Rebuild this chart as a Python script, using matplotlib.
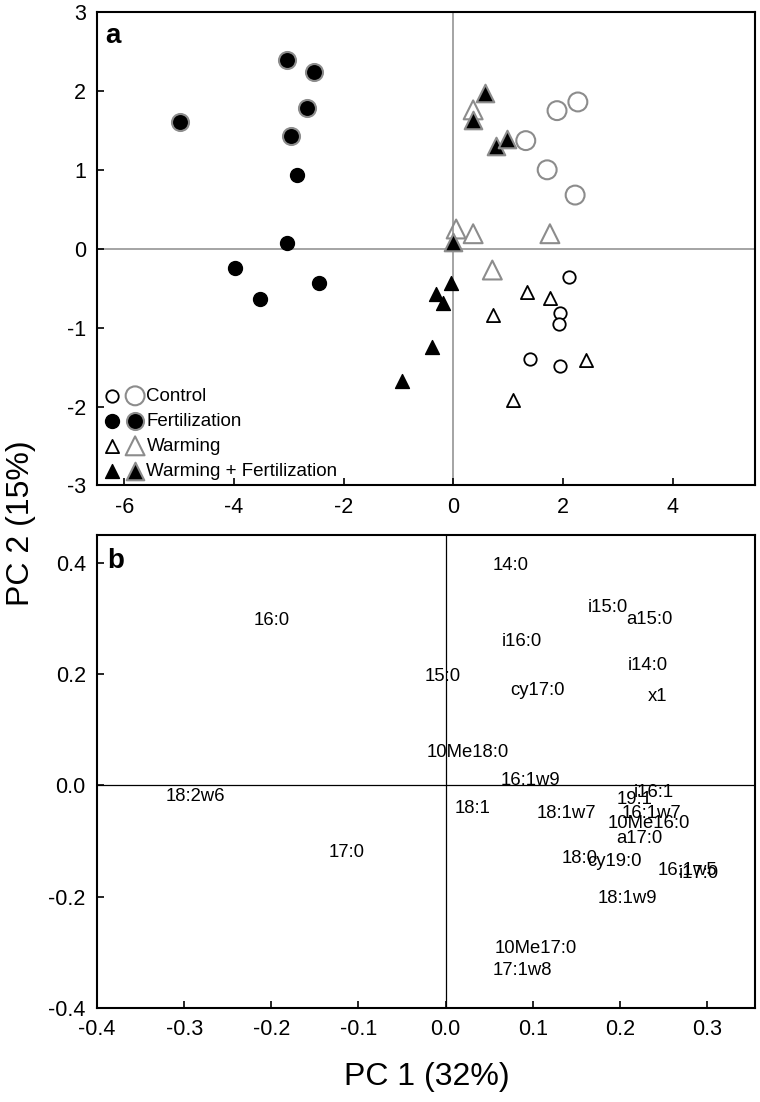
import matplotlib
matplotlib.use('Agg')
import matplotlib.pyplot as plt
from matplotlib.legend_handler import HandlerTuple

plt.rcParams['font.family'] = ['Liberation Sans', 'DejaVu Sans']
plt.rcParams['axes.unicode_minus'] = False

# panel a: sample scores (PC1, PC2), two sampling sets per treatment
control_1_x = [2.11, 1.95, 1.93, 1.40, 1.95]
control_1_y = [-0.36, -0.82, -0.95, -1.40, -1.49]
control_2_x = [2.27, 1.89, 1.32, 1.71, 2.22]
control_2_y = [1.86, 1.75, 1.37, 1.00, 0.68]

fert_1_x = [-2.85, -3.03, -3.98, -3.53, -2.46]
fert_1_y = [0.93, 0.07, -0.24, -0.64, -0.43]
fert_2_x = [-3.03, -2.55, -2.67, -2.97, -4.98]
fert_2_y = [2.39, 2.24, 1.78, 1.43, 1.60]

warm_1_x = [1.34, 1.77, 0.72, 2.42, 1.09]
warm_1_y = [-0.55, -0.62, -0.84, -1.41, -1.92]
warm_2_x = [0.36, 0.05, 0.36, 1.76, 0.71]
warm_2_y = [1.76, 0.25, 0.19, 0.19, -0.27]

wf_1_x = [-0.05, -0.32, -0.19, -0.39, -0.94]
wf_1_y = [-0.43, -0.57, -0.69, -1.24, -1.68]
wf_2_x = [0.57, 0.35, 0.78, 0.98, 0.00]
wf_2_y = [1.97, 1.63, 1.30, 1.39, 0.08]

# panel b: PLFA loadings
plfa_names = ['14:0', '16:0', 'i15:0', 'a15:0', 'i16:0', 'i14:0', '15:0', 'cy17:0',
              'x1', '10Me18:0', '16:1w9', '18:2w6', '18:1', 'i16:1', '19:1', '18:1w7',
              '16:1w7', '10Me16:0', 'a17:0', '17:0', '18:0', 'cy19:0', '16:1w5',
              'i17:0', '18:1w9', '10Me17:0', '17:1w8']
plfa_x = [0.075, -0.199, 0.186, 0.234, 0.088, 0.232, -0.003, 0.105,
          0.243, 0.026, 0.097, -0.287, 0.031, 0.239, 0.217, 0.139,
          0.236, 0.233, 0.2225, -0.113, 0.154, 0.194, 0.277,
          0.291, 0.209, 0.104, 0.088]
plfa_y = [0.395, 0.296, 0.320, 0.299, 0.258, 0.215, 0.195, 0.170,
          0.160, 0.059, 0.009, -0.020, -0.042, -0.012, -0.026, -0.051,
          -0.051, -0.068, -0.096, -0.120, -0.132, -0.136, -0.152,
          -0.158, -0.203, -0.293, -0.332]

grey = '0.55'

fig = plt.figure(figsize=(7.6, 11.02), dpi=100)
ax1 = fig.add_axes([0.1276, 0.5595, 0.8658, 0.4296])
ax2 = fig.add_axes([0.1276, 0.0853, 0.8658, 0.4292])

# ---- panel a
ax1.axhline(0, color=grey, lw=1.1, zorder=1)
ax1.axvline(0, color=grey, lw=1.1, zorder=1)

h_c1 = ax1.scatter(control_1_x, control_1_y, s=80, marker='o', facecolors='white',
                   edgecolors='black', linewidths=1.3, zorder=3)
h_c2 = ax1.scatter(control_2_x, control_2_y, s=185, marker='o', facecolors='none',
                   edgecolors=grey, linewidths=1.5, zorder=3)
h_f1 = ax1.scatter(fert_1_x, fert_1_y, s=100, marker='o', color='black', zorder=3)
h_f2 = ax1.scatter(fert_2_x, fert_2_y, s=150, marker='o', facecolors='black',
                   edgecolors=grey, linewidths=1.5, zorder=3)
h_w1 = ax1.scatter(warm_1_x, warm_1_y, s=90, marker='^', facecolors='white',
                   edgecolors='black', linewidths=1.3, zorder=3)
h_w2 = ax1.scatter(warm_2_x, warm_2_y, s=185, marker='^', facecolors='none',
                   edgecolors=grey, linewidths=1.5, zorder=3)
h_wf1 = ax1.scatter(wf_1_x, wf_1_y, s=100, marker='^', color='black', zorder=3)
h_wf2 = ax1.scatter(wf_2_x, wf_2_y, s=160, marker='^', facecolors='black',
                    edgecolors=grey, linewidths=1.5, zorder=3)

ax1.set_xlim(-6.5, 5.5)
ax1.set_ylim(-3, 3)
ax1.set_xticks([-6, -4, -2, 0, 2, 4])
ax1.set_yticks([-3, -2, -1, 0, 1, 2, 3])
ax1.text(0.012, 0.9345, 'a', transform=ax1.transAxes, fontsize=20, fontweight='bold')

ax1.legend([(h_c1, h_c2), (h_f1, h_f2), (h_w1, h_w2), (h_wf1, h_wf2)],
           ['Control', 'Fertilization', 'Warming', 'Warming + Fertilization'],
           handler_map={tuple: HandlerTuple(ndivide=None, pad=0.45)},
           loc='lower left', bbox_to_anchor=(0.012, 0.012), frameon=False,
           fontsize=13.5, borderpad=0, borderaxespad=0, handlelength=2.0,
           handletextpad=0.22, labelspacing=0.42)

# ---- panel b
ax2.axhline(0, color='black', lw=0.9, zorder=1)
ax2.axvline(0, color='black', lw=0.9, zorder=1)
for name, x, y in zip(plfa_names, plfa_x, plfa_y):
    ax2.text(x, y, name, fontsize=13.3, ha='center', va='center', zorder=3)

ax2.set_xlim(-0.4, 0.355)
ax2.set_ylim(-0.4, 0.45)
ax2.set_xticks([-0.4, -0.3, -0.2, -0.1, 0.0, 0.1, 0.2, 0.3])
ax2.set_yticks([-0.4, -0.2, 0.0, 0.2, 0.4])
ax2.set_xticklabels(['%.1f' % v for v in ax2.get_xticks()])
ax2.set_yticklabels(['%.1f' % v for v in ax2.get_yticks()])
ax2.text(0.016, 0.930, 'b', transform=ax2.transAxes, fontsize=20, fontweight='bold')

for ax in (ax1, ax2):
    for sp in ax.spines.values():
        sp.set_linewidth(1.5)
    ax.tick_params(direction='in', length=5, width=1.2, labelsize=15.5, pad=8,
                   top=False, right=False)

fig.text(0.028, 0.525, 'PC 2 (15%)', rotation=90, fontsize=23, ha='center', va='center')
fig.text(0.561, 0.0227, 'PC 1 (32%)', fontsize=23, ha='center', va='center')

fig.savefig('out.png', dpi=100)
